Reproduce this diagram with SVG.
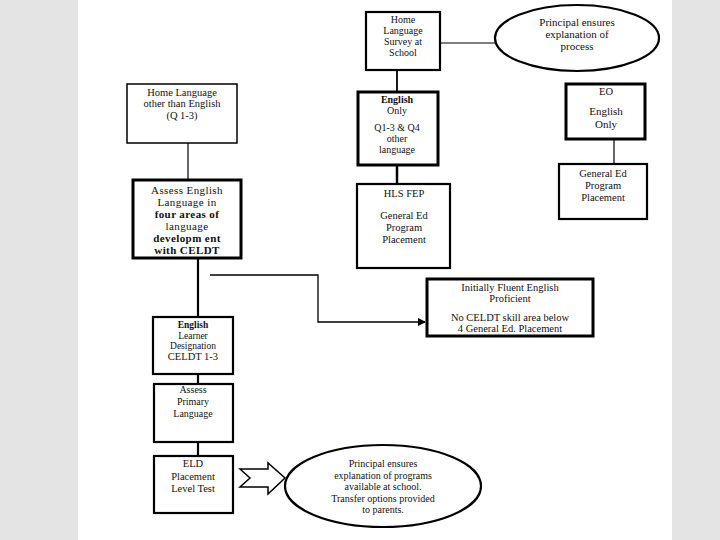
<svg xmlns="http://www.w3.org/2000/svg" width="720" height="540" viewBox="0 0 720 540">
<style>
.bx{fill:#fff;stroke:#000}
.t1{stroke-width:1.5}
.t2{stroke-width:2.2}
.t3{stroke-width:3}
.ln{stroke:#000;fill:none}
text{font-family:"Liberation Serif","Times New Roman",serif;font-size:10.5px;fill:#111;text-anchor:middle}
.b{font-weight:bold}
.w{letter-spacing:0.4px}
</style>
<defs>
<marker id="ah" markerWidth="8" markerHeight="8" refX="7" refY="4" orient="auto" markerUnits="userSpaceOnUse">
<path d="M0,0 L8,4 L0,8 Z" fill="#000"/>
</marker>
</defs>
<rect x="0" y="0" width="720" height="540" fill="#fff"/>
<rect x="0" y="0" width="78" height="540" fill="#e4e4e4"/>
<rect x="672" y="0" width="48" height="540" fill="#e4e4e4"/>

<g id="connectors">
<line class="ln" x1="440" y1="43" x2="495" y2="43" stroke-width="1.2"/>
<line class="ln" x1="397" y1="70" x2="397" y2="92" stroke-width="1.8"/>
<line class="ln" x1="397" y1="165" x2="397" y2="184" stroke-width="2.5"/>
<line class="ln" x1="188" y1="143" x2="188" y2="179" stroke-width="1.2"/>
<line class="ln" x1="614" y1="139" x2="614" y2="164" stroke-width="1.2"/>
<line class="ln" x1="198" y1="259" x2="198" y2="317" stroke-width="2.2"/>
<polyline class="ln" points="210,275 318,275 318,322 425,322" stroke="#555" stroke-width="1.3" marker-end="url(#ah)"/>
<line class="ln" x1="198" y1="374" x2="198" y2="384" stroke-width="2.2"/>
<line class="ln" x1="198" y1="442" x2="198" y2="456" stroke-width="2.2"/>
<polygon points="240,469 268,469 268,463 285,478 268,494 268,487 240,487 250,478" fill="#fff" stroke="#000" stroke-width="1.5"/>
</g>

<g id="survey">
<rect class="bx t2" x="366" y="12" width="74" height="58"/>
<text x="403" y="23" style="font-size:10px">Home</text>
<text x="403" y="34" style="font-size:10px">Language</text>
<text x="403" y="45" style="font-size:10px">Survey at</text>
<text x="403" y="56" style="font-size:10px">School</text>
</g>

<g id="principal-process">
<ellipse class="bx t2" cx="577" cy="38" rx="82" ry="33"/>
<text x="577" y="26" style="font-size:11px">Principal ensures</text>
<text x="577" y="38" style="font-size:11px">explanation  of</text>
<text x="577" y="50" style="font-size:11px">process</text>
</g>

<g id="home-other">
<rect class="bx t1" x="127" y="84" width="110" height="59"/>
<text x="182" y="96">Home Language</text>
<text x="182" y="107">other than English</text>
<text x="182" y="119">(Q 1-3)</text>
</g>

<g id="assess-english">
<rect class="bx t3" x="133" y="180" width="108" height="78"/>
<text class="w" x="187" y="194" style="font-size:11px">Assess English</text>
<text class="w" x="187" y="206" style="font-size:11px">Language in</text>
<text class="b w" x="187" y="218" style="font-size:11px">four areas of</text>
<text class="w" x="187" y="230" style="font-size:11px">language</text>
<text class="b w" x="187" y="242" style="font-size:11px">developm ent</text>
<text class="b w" x="187" y="254" style="font-size:11px">with CELDT</text>
</g>

<g id="english-only">
<rect class="bx t3" x="358" y="92" width="80" height="73"/>
<text class="b" x="397" y="103" style="font-size:10px">English</text>
<text x="397" y="114" style="font-size:10px">Only</text>
<text x="397" y="131" style="font-size:10px">Q1-3 &amp; Q4</text>
<text x="397" y="142" style="font-size:10px">other</text>
<text x="397" y="153" style="font-size:10px">language</text>
</g>

<g id="hls-fep">
<rect class="bx t2" x="357" y="184" width="93" height="84"/>
<text x="404" y="197">HLS FEP</text>
<text x="404" y="219">General Ed</text>
<text x="404" y="231">Program</text>
<text x="404" y="243">Placement</text>
</g>

<g id="eo">
<rect class="bx t3" x="566" y="84" width="79" height="55"/>
<text x="606" y="95">EO</text>
<text x="606" y="115" style="font-size:11px">English</text>
<text x="606" y="128" style="font-size:11px">Only</text>
</g>

<g id="general-ed-eo">
<rect class="bx t2" x="559" y="164" width="88" height="55"/>
<text x="603" y="177">General Ed</text>
<text x="603" y="189">Program</text>
<text x="603" y="201">Placement</text>
</g>

<g id="ifep">
<rect class="bx t3" x="427" y="279" width="166" height="57"/>
<text x="510" y="291">Initially Fluent English</text>
<text x="510" y="302">Proficient</text>
<text x="510" y="321">No CELDT skill area below</text>
<text x="510" y="332">4 General Ed. Placement</text>
</g>

<g id="english-learner">
<rect class="bx t2" x="153" y="317" width="80" height="57"/>
<text class="b" x="193" y="328" style="font-size:9.5px">English</text>
<text x="193" y="338.5" style="font-size:9.5px">Learner</text>
<text x="193" y="349" style="font-size:9.5px">Designation</text>
<text x="193" y="360" style="font-size:10.5px">CELDT 1-3</text>
</g>

<g id="assess-primary">
<rect class="bx t2" x="154" y="384" width="79" height="58"/>
<text x="193" y="393" style="font-size:10px">Assess</text>
<text x="193" y="405" style="font-size:10px">Primary</text>
<text x="193" y="417" style="font-size:10px">Language</text>
</g>

<g id="eld-test">
<rect class="bx t2" x="154" y="456" width="79" height="57"/>
<text x="193" y="467">ELD</text>
<text x="193" y="480">Placement</text>
<text x="193" y="492">Level Test</text>
</g>

<g id="principal-programs">
<ellipse class="bx t2" cx="383" cy="486" rx="98" ry="41"/>
<text x="383" y="467" style="font-size:10px">Principal ensures</text>
<text x="383" y="479" style="font-size:10px">explanation of programs</text>
<text x="383" y="490" style="font-size:10px">available at school.</text>
<text x="383" y="502" style="font-size:10px">Transfer options provided</text>
<text x="383" y="513" style="font-size:10px">to parents.</text>
</g>
</svg>
